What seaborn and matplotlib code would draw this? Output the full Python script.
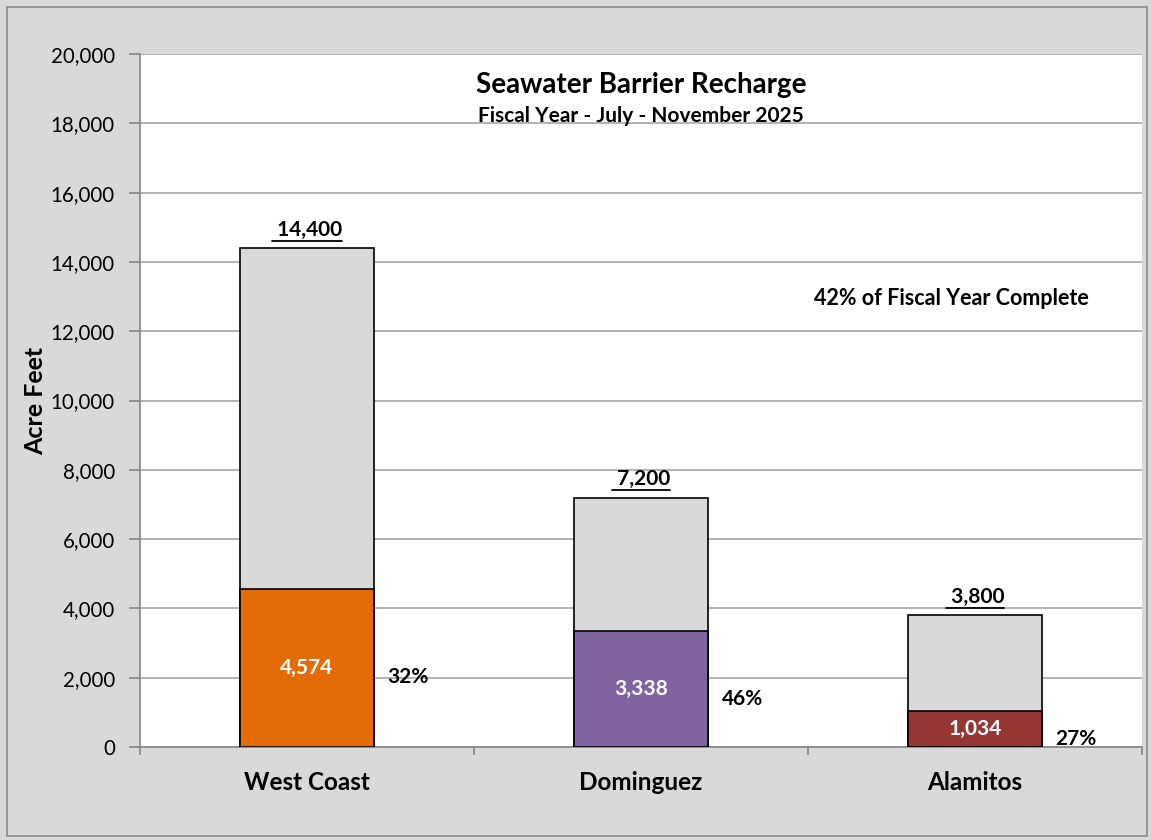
import matplotlib
matplotlib.use("Agg")
import matplotlib.pyplot as plt
import matplotlib.patches as mpatches
from matplotlib.lines import Line2D
from matplotlib.ticker import FuncFormatter, FixedLocator
import pandas as pd
import seaborn as sns

barriers = ["West Coast", "Dominguez", "Alamitos"]
fiscal_year_total = [14400, 7200, 3800]
recharge_to_date = [4574, 3338, 1034]
bar_colors = ["#E36C09", "#8064A2", "#953735"]
title = "Seawater Barrier Recharge"
subtitle = "Fiscal Year - July - November 2025"
year_note = "42% of Fiscal Year Complete"

sns.set_style("white")
plt.rcParams["font.family"] = ["Lato", "DejaVu Sans"]
plt.rcParams["text.color"] = "black"
plt.rcParams["axes.labelcolor"] = "black"
plt.rcParams["xtick.color"] = "black"
plt.rcParams["ytick.color"] = "black"

df = pd.DataFrame({
    "barrier": barriers,
    "total": fiscal_year_total,
    "actual": recharge_to_date,
})
df["pct"] = df["actual"] / df["total"] * 100

fig = plt.figure(figsize=(11.51, 8.4), dpi=100)
fig.patch.set_facecolor("#D9D9D9")
ax = fig.add_axes([140 / 1151, 93 / 840, 1002 / 1151, 693 / 840])
ax.set_facecolor("white")

sns.barplot(data=df, x="barrier", y="total", color="#D9D9D9", edgecolor="black",
            linewidth=1.2, width=0.4, saturation=1, ax=ax, zorder=3)
sns.barplot(data=df, x="barrier", y="actual", hue="barrier", palette=bar_colors,
            edgecolor="black", linewidth=1.2, width=0.4, saturation=1, legend=False,
            ax=ax, zorder=4)

ax.set_ylim(0, 20000)
ax.set_xlim(-0.5, len(barriers) - 0.5)
ax.set_yticks(range(0, 20001, 2000))
ax.yaxis.set_major_formatter(FuncFormatter(lambda v, p: f"{int(v):,}"))
ax.grid(axis="y", color="#A6A6A6", linewidth=1.2, zorder=0)
ax.set_axisbelow(True)
for side in ["top", "right"]:
    ax.spines[side].set_visible(False)
for side in ["left", "bottom"]:
    ax.spines[side].set_color("#868686")
    ax.spines[side].set_linewidth(1.2)
ax.tick_params(axis="y", which="major", length=8, color="#868686", width=1.2,
               labelsize=14.8, pad=10, left=True, labelcolor="black")
ax.tick_params(axis="x", which="major", length=0, labelsize=17.5, pad=17,
               labelcolor="black")
ax.xaxis.set_minor_locator(FixedLocator([i - 0.5 for i in range(len(barriers) + 1)]))
ax.tick_params(axis="x", which="minor", length=6, color="#868686", width=1.2, bottom=True)
for lbl in ax.get_xticklabels():
    lbl.set_fontweight("bold")
ax.set_xlabel("")
ax.set_ylabel("Acre Feet", fontsize=18, fontweight="bold", labelpad=3)

total_texts = []
for i, row in df.iterrows():
    t = ax.annotate(f" {row['total']:,}", (i, row["total"]), xytext=(0, 6),
                    textcoords="offset points", ha="center", va="bottom",
                    fontsize=15, fontweight="bold", color="black")
    total_texts.append(t)
    ax.annotate(f"{row['actual']:,}", (i, row["actual"] / 2), ha="center", va="center",
                fontsize=15, fontweight="bold", color="white", zorder=6)
    ax.annotate(f"{row['pct']:.0f}%", (i + 0.2, row["actual"] / 2), xytext=(10, -7),
                textcoords="offset points", ha="left", va="center",
                fontsize=15, fontweight="bold", color="black")

ax.text(0.5, 0.955, title, transform=ax.transAxes, ha="center", va="center",
        fontsize=20, fontweight="bold")
ax.text(0.5, 0.91, subtitle, transform=ax.transAxes, ha="center", va="center",
        fontsize=15, fontweight="bold")
ax.text(0.81, 0.647, year_note, transform=ax.transAxes, ha="center", va="center",
        fontsize=15.5, fontweight="bold")

# underline the fiscal year totals
fig.canvas.draw()
renderer = fig.canvas.get_renderer()
inv = fig.transFigure.inverted()
for t in total_texts:
    bb = t.get_window_extent(renderer)
    (x0, y0), (x1, _) = inv.transform([(bb.x0, bb.y0 - 1), (bb.x1, bb.y1)])
    fig.add_artist(Line2D([x0, x1], [y0, y0], transform=fig.transFigure,
                          color="black", linewidth=1.3))

fig.add_artist(mpatches.Rectangle((7 / 1151, 4 / 840), 1140 / 1151, 829 / 840,
                                  transform=fig.transFigure, fill=False,
                                  edgecolor="#8C8C8C", linewidth=1.2))

fig.savefig("out.png", dpi=100, facecolor=fig.get_facecolor())
